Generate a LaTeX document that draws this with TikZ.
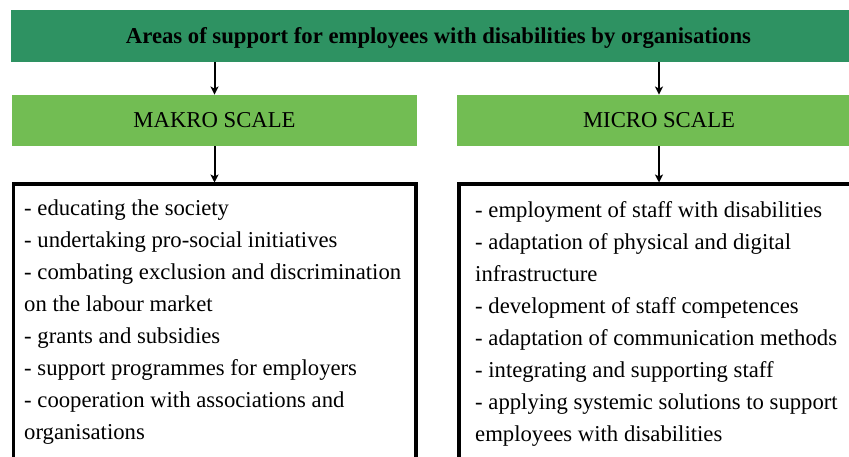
\documentclass[tikz,border=0pt]{standalone}
\usepackage{fontspec}
\setmainfont{Liberation Serif}
\usepackage{tikz}
\usetikzlibrary{arrows.meta}
\definecolor{bannergreen}{RGB}{46,146,98}
\definecolor{scalegreen}{RGB}{114,189,83}

\begin{document}
\begin{tikzpicture}[x=1pt,y=-1pt,
		font=\fontsize{22.7}{32}\selectfont,
		band/.style={inner sep=0pt, minimum height=51.5pt, text height=15pt, text depth=0pt},
		listbox/.style={draw, line width=3.5pt, anchor=north, minimum height=400pt},
		listtext/.style={anchor=base west, inner sep=0pt, align=left},
		conn/.style={-{Stealth[length=8pt, width=8pt, inset=2pt]}, line width=2pt}]
	
	\useasboundingbox (0,0) rectangle (849,457);
	
	\node[band, fill=bannergreen, minimum width=855pt] (title) at (438.5,36)
		{\bfseries Areas of support for employees with disabilities by organisations};
	
	\node[band, fill=scalegreen, minimum width=405.5pt] (makro) at (214.5,120.5) {MAKRO SCALE};
	\node[band, fill=scalegreen, minimum width=404pt] (micro) at (659,120.5) {MICRO SCALE};
	
	\node[listbox, minimum width=402.5pt] (makrolist) at (214.5,182.5) {};
	\node[listbox, minimum width=400pt] (microlist) at (659,182.5) {};
	
	% anchored at the baseline of the last line
	\node[listtext] (makroitems) at (24,439) {- educating the society\\
		- undertaking pro-social initiatives\\
		- combating exclusion and discrimination\\
		on the labour market\\
		- grants and subsidies\\
		- support programmes for employers\\
		- cooperation with associations and\\
		organisations};
	
	\node[listtext] (microitems) at (475,441) {- employment of staff with disabilities\\
		- adaptation of physical and digital\\
		infrastructure\\
		- development of staff competences\\
		- adaptation of communication methods\\
		- integrating and supporting staff\\
		- applying systemic solutions to support\\
		employees with disabilities};
	
	\path (title.south -| makro.north) edge[conn] (makro.north)
		(title.south -| micro.north) edge[conn] (micro.north);
	\path (makro.south) edge[conn] (makrolist.north)
		(micro.south) edge[conn] (microlist.north);
	
\end{tikzpicture}
\end{document}
